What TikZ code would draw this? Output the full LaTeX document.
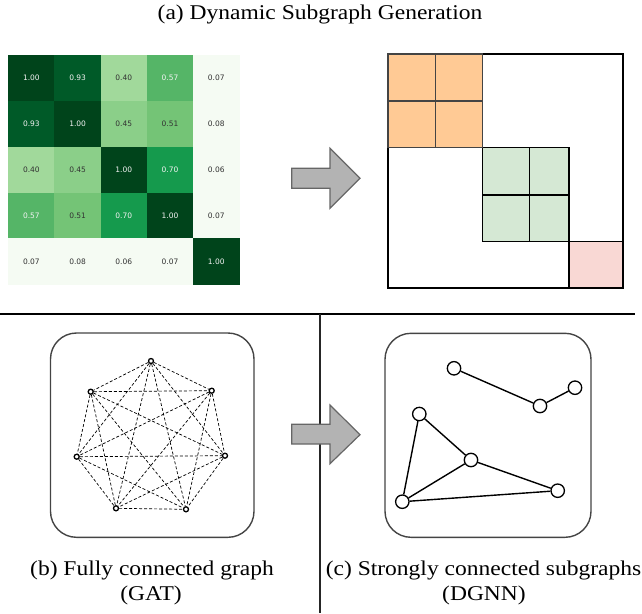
\documentclass[tikz,border=0pt]{standalone}
\usepackage{fontspec}
\setmainfont{Liberation Serif}
\newfontfamily\hmfont{DejaVu Sans}
\definecolor{gA}{HTML}{00441B}
\definecolor{gB}{HTML}{005A28}
\definecolor{gC}{HTML}{A1D99B}
\definecolor{gD}{HTML}{55B567}
\definecolor{gE}{HTML}{8BCF89}
\definecolor{gF}{HTML}{74C476}
\definecolor{gG}{HTML}{159A4D}
\definecolor{gW}{HTML}{F5FBF3}
\definecolor{tW}{HTML}{F2F2F2}
\definecolor{tK}{HTML}{333333}
\definecolor{orangeF}{HTML}{FFCA95}
\definecolor{greenF}{HTML}{D5E8D4}
\definecolor{pinkF}{HTML}{F9D8D4}
\definecolor{arrowF}{HTML}{B3B3B3}
\definecolor{arrowD}{HTML}{666666}
\definecolor{boxD}{HTML}{444444}
\tikzset{
  hcell/.style={minimum width=46.6pt,minimum height=46.3pt,inner sep=0pt,draw=none,
    font=\hmfont\fontsize{7.5}{9}\selectfont},
  caption/.style={font=\fontsize{21}{25}\selectfont,inner sep=0pt,anchor=base},
  bigarrow/.style={fill=arrowF,draw=arrowD,line width=1.2pt,line join=miter},
  panel/.style={draw=boxD,line width=1.4pt,rounded corners=26pt},
  dnode/.style={circle,draw=black,fill=white,line width=1.3pt,minimum size=5pt,inner sep=0pt},
  snode/.style={circle,draw=black,fill=white,line width=1.3pt,minimum size=13.4pt,inner sep=0pt},
  dedge/.style={draw=black,line width=0.7pt,dash pattern=on 3pt off 2pt},
  sedge/.style={draw=black,line width=1.4pt},
  blk/.style={line width=1.2pt},
  divider/.style={draw=black,line width=2pt}
}
\newcommand{\wx}[1]{\scalebox{1.12}[1]{#1}}
\begin{document}
\begin{tikzpicture}[x=1pt,y=-1pt]
\useasboundingbox (0,0) rectangle (642,613);

% title
\node[caption] (title) at (320,19.5) {\wx{(a) Dynamic Subgraph Generation}};

% heatmap
\foreach \r/\c/\v/\col/\tc in {
  1/1/1.00/gA/tW, 1/2/0.93/gB/tW, 1/3/0.40/gC/tK, 1/4/0.57/gD/tW, 1/5/0.07/gW/tK,
  2/1/0.93/gB/tW, 2/2/1.00/gA/tW, 2/3/0.45/gE/tK, 2/4/0.51/gF/tK, 2/5/0.08/gW/tK,
  3/1/0.40/gC/tK, 3/2/0.45/gE/tK, 3/3/1.00/gA/tW, 3/4/0.70/gG/tW, 3/5/0.06/gW/tK,
  4/1/0.57/gD/tW, 4/2/0.51/gF/tK, 4/3/0.70/gG/tW, 4/4/1.00/gA/tW, 4/5/0.07/gW/tK,
  5/1/0.07/gW/tK, 5/2/0.08/gW/tK, 5/3/0.06/gW/tK, 5/4/0.07/gW/tK, 5/5/1.00/gA/tW}
  \node[hcell,fill=\col,text=\tc] (h\r\c) at ({8.3+46.2*(\c-0.5)},{55+45.9*(\r-0.5)}) {\v};

% arrow (a)
\draw[bigarrow] (291.7,168.3) -- (330,168.3) -- (330,148.3) -- (360,178.3)
  -- (330,208.3) -- (330,188.3) -- (291.7,188.3) -- cycle;

% block matrix
\fill[orangeF] (388,54) rectangle (482.7,147.7);
\fill[greenF] (482.7,147.7) rectangle (569,241.7);
\fill[pinkF] (569,241.7) rectangle (623,288);
\draw[blk,black] (388,54) rectangle (623,288);
\draw[blk,black] (482.7,147.7) rectangle (569,241.7);
\draw[blk,black] (529.7,147.7) -- (529.7,241.7);
\draw[blk,black] (482.7,195) -- (569,195);
\draw[blk,black] (569,241.7) rectangle (623,288);
\draw[blk,draw=boxD] (388,54) rectangle (482.7,147.7);
\draw[blk,draw=boxD] (435.3,54) -- (435.3,147.7);
\draw[blk,draw=boxD] (388,101) -- (482.7,101);

% dividers
\coordinate (hl) at (0,314);
\coordinate (hr) at (635,314);
\coordinate (vt) at (320,314);
\coordinate (vb) at (320,613);
\draw[divider] (hl) -- (hr);
\draw[divider,draw=black!85] (vt) -- (vb);

% panels
\draw[panel] (50.5,333) rectangle (254,537.3);
\draw[panel] (385,333.3) rectangle (591,537.3);

% arrow (b->c)
\draw[bigarrow] (291.7,424.3) -- (330,424.3) -- (330,405) -- (360,434.7)
  -- (330,463.7) -- (330,444) -- (291.7,444) -- cycle;

% fully connected graph
\node[dnode] (b1) at (151,361) {};
\node[dnode] (b2) at (90.7,391.7) {};
\node[dnode] (b3) at (211.7,390.7) {};
\node[dnode] (b4) at (76.7,456.7) {};
\node[dnode] (b5) at (225,455.7) {};
\node[dnode] (b6) at (116,508.3) {};
\node[dnode] (b7) at (186,509.3) {};
\foreach \i in {1,...,6}{
  \pgfmathtruncatemacro{\s}{\i+1}
  \foreach \j in {\s,...,7}{
    \draw[dedge] (b\i) -- (b\j);
  }
}

% strongly connected subgraphs
\node[snode] (c1) at (454,368.3) {};
\node[snode] (c2) at (540,406) {};
\node[snode] (c3) at (575,387.7) {};
\node[snode] (c4) at (419.3,414) {};
\node[snode] (c5) at (471,460) {};
\node[snode] (c6) at (557.7,490.7) {};
\node[snode] (c7) at (402.3,501.7) {};
\draw[sedge] (c1) -- (c2);
\draw[sedge] (c2) -- (c3);
\draw[sedge] (c4) -- (c5);
\draw[sedge] (c4) -- (c7);
\draw[sedge] (c5) -- (c7);
\draw[sedge] (c5) -- (c6);
\draw[sedge] (c7) -- (c6);

% captions
\node[caption] (capb1) at (152,575) {\wx{(b) Fully connected graph}};
\node[caption] (capb2) at (151,600) {\wx{(GAT)}};
\node[caption] (capc1) at (483.5,575) {\wx{(c) Strongly connected subgraphs}};
\node[caption] (capc2) at (484,600) {\wx{(DGNN)}};
\end{tikzpicture}
\end{document}
